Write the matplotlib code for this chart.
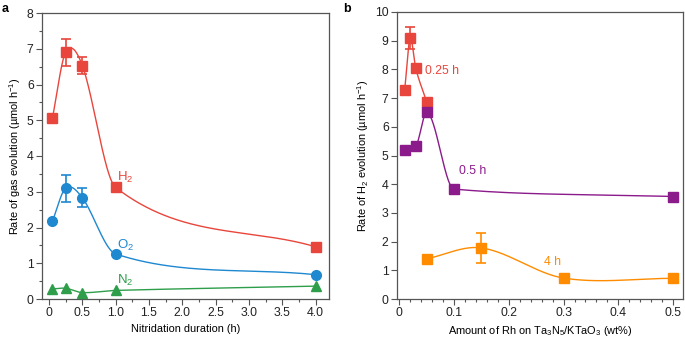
import numpy as np
import matplotlib
matplotlib.use("Agg")
import matplotlib.pyplot as plt
from matplotlib.ticker import MultipleLocator, FixedLocator

plt.rcParams['font.family'] = ['Liberation Sans', 'DejaVu Sans']
plt.rcParams['mathtext.fontset'] = 'custom'
plt.rcParams['mathtext.rm'] = 'Liberation Sans'
plt.rcParams['mathtext.it'] = 'Liberation Sans'

# Panel a data
dur = [0.05, 0.25, 0.5, 1.0, 4.0]
h2_a = [5.05, 6.9, 6.53, 3.12, 1.46]
h2_a_err = [0, 0.38, 0.24, 0, 0]
o2_a = [2.17, 3.1, 2.83, 1.26, 0.68]
o2_a_err = [0, 0.38, 0.27, 0, 0]
n2_a = [0.28, 0.3, 0.18, 0.24, 0.36]

# Panel b data
rh_025 = [0.01, 0.02, 0.03, 0.05]
h2_025 = [7.28, 9.1, 8.05, 6.88]
err_025 = [0, 0.39, 0, 0]
rh_05 = [0.01, 0.03, 0.05, 0.1, 0.5]
h2_05 = [5.18, 5.33, 6.5, 3.83, 3.57]
rh_4 = [0.05, 0.15, 0.3, 0.5]
h2_4 = [1.4, 1.78, 0.73, 0.72]
err_4 = [0, 0.51, 0, 0]

RED = '#E8463C'
BLUE = '#1E88D0'
GREEN = '#2E9E4A'
PURPLE = '#8B1A8B'
ORANGE = '#FF8C00'


def smooth(x, y, method='cr', n=200):
    """Piecewise cubic Hermite curve through the points.
    'cr': Catmull-Rom style tangents, 'pchip': monotone Fritsch-Carlson tangents."""
    x = np.asarray(x, float)
    y = np.asarray(y, float)
    h = np.diff(x)
    d = np.diff(y) / h
    m = np.zeros_like(y)
    if method == 'cr':
        m[0] = d[0]
        m[-1] = d[-1]
        for k in range(1, len(x) - 1):
            m[k] = (y[k + 1] - y[k - 1]) / (x[k + 1] - x[k - 1])
    else:
        for k in range(1, len(x) - 1):
            if d[k - 1] * d[k] > 0:
                w1 = 2 * h[k] + h[k - 1]
                w2 = h[k] + 2 * h[k - 1]
                m[k] = (w1 + w2) / (w1 / d[k - 1] + w2 / d[k])
        m[0] = d[0]
        m[-1] = d[-1]
    xs, ys = [], []
    for i in range(len(x) - 1):
        t = np.linspace(0, 1, n)
        h00 = 2 * t**3 - 3 * t**2 + 1
        h10 = t**3 - 2 * t**2 + t
        h01 = -2 * t**3 + 3 * t**2
        h11 = t**3 - t**2
        xs.append(x[i] + t * h[i])
        ys.append(h00 * y[i] + h10 * h[i] * m[i] + h01 * y[i + 1] + h11 * h[i] * m[i + 1])
    return np.concatenate(xs), np.concatenate(ys)


fig = plt.figure(figsize=(6.85, 3.42), dpi=100)
ax1 = fig.add_axes([42 / 685, 1 - 299 / 342, 287 / 685, 286 / 342])
ax2 = fig.add_axes([397 / 685, 1 - 299 / 342, 286 / 685, 287 / 342])

TFS = 8.8
LFS = 7.9


def style(ax):
    for s in ax.spines.values():
        s.set_color('#555555')
        s.set_linewidth(0.9)
    ax.tick_params(which='both', direction='out', color='#555555', labelsize=TFS,
                   width=0.8, pad=2, labelcolor='#222222')
    ax.tick_params(which='major', length=4)
    ax.tick_params(which='minor', length=2.5)


def add_errors(ax, x, y, e, c):
    xe = [xi for xi, ei in zip(x, e) if ei > 0]
    ye = [yi for yi, ei in zip(y, e) if ei > 0]
    ee = [ei for ei in e if ei > 0]
    ax.errorbar(xe, ye, yerr=ee, fmt='none', ecolor=c, elinewidth=1.2,
                capsize=3.5, capthick=1.2, zorder=3)


# Panel a
for x, y, e, c, mk, ms in [(dur, h2_a, h2_a_err, RED, 's', 6.5),
                           (dur, o2_a, o2_a_err, BLUE, 'o', 7),
                           (dur, n2_a, None, GREEN, '^', 7)]:
    sx, sy = smooth(x, y, 'cr')
    ax1.plot(sx, sy, color=c, lw=1.0, zorder=2)
    ax1.plot(x, y, mk, color=c, ms=ms, mec=c, zorder=3)
    if e is not None:
        add_errors(ax1, x, y, e, c)

ax1.text(1.02, 3.3, 'H$_2$', color=RED, fontsize=9.5, ha='left', va='baseline')
ax1.text(1.02, 1.4, 'O$_2$', color=BLUE, fontsize=9.5, ha='left', va='baseline')
ax1.text(1.02, 0.42, 'N$_2$', color=GREEN, fontsize=9.5, ha='left', va='baseline')

ax1.set_xlim(-0.105, 4.2)
ax1.set_ylim(0, 8)
ax1.xaxis.set_major_locator(FixedLocator([0, 0.5, 1, 1.5, 2, 2.5, 3, 3.5, 4]))
ax1.set_xticklabels(['0', '0.5', '1.0', '1.5', '2.0', '2.5', '3.0', '3.5', '4.0'])
ax1.xaxis.set_minor_locator(MultipleLocator(0.25))
ax1.yaxis.set_major_locator(MultipleLocator(1))
ax1.yaxis.set_minor_locator(MultipleLocator(0.5))
style(ax1)
ax1.set_xlabel('Nitridation duration (h)', fontsize=LFS, labelpad=3)
ax1.set_ylabel('Rate of gas evolution (\u00b5mol h$^{-1}$)', fontsize=LFS, labelpad=3)

# Panel b
for x, y, e, c, meth in [(rh_025, h2_025, err_025, RED, 'cr'),
                         (rh_05, h2_05, None, PURPLE, 'pchip'),
                         (rh_4, h2_4, err_4, ORANGE, 'cr')]:
    sx, sy = smooth(x, y, meth)
    ax2.plot(sx, sy, color=c, lw=1.0, zorder=2)
    ax2.plot(x, y, 's', color=c, ms=6.5, mec=c, zorder=3)
    if e is not None:
        add_errors(ax2, x, y, e, c)

ax2.text(0.047, 7.93, '0.25 h', color=RED, fontsize=8.8, ha='left', va='center')
ax2.text(0.109, 4.45, '0.5 h', color=PURPLE, fontsize=8.8, ha='left', va='center')
ax2.text(0.264, 1.3, '4 h', color=ORANGE, fontsize=8.8, ha='left', va='center')

ax2.set_xlim(-0.004, 0.518)
ax2.set_ylim(0, 10)
ax2.xaxis.set_major_locator(FixedLocator([0, 0.1, 0.2, 0.3, 0.4, 0.5]))
ax2.set_xticklabels(['0', '0.1', '0.2', '0.3', '0.4', '0.5'])
ax2.xaxis.set_minor_locator(MultipleLocator(0.02))
ax2.yaxis.set_major_locator(MultipleLocator(1))
style(ax2)
ax2.set_xlabel('Amount of Rh on Ta$_3$N$_5$/KTaO$_3$ (wt%)', fontsize=LFS, labelpad=3)
ax2.set_ylabel('Rate of H$_2$ evolution (\u00b5mol h$^{-1}$)', fontsize=LFS, labelpad=3)

fig.text(2 / 685, 1 - 9 / 342, 'a', fontsize=9, fontweight='bold', va='center', ha='left')
fig.text(343 / 685, 1 - 9 / 342, 'b', fontsize=9, fontweight='bold', va='center', ha='left')

fig.savefig('out.png', dpi=100)
